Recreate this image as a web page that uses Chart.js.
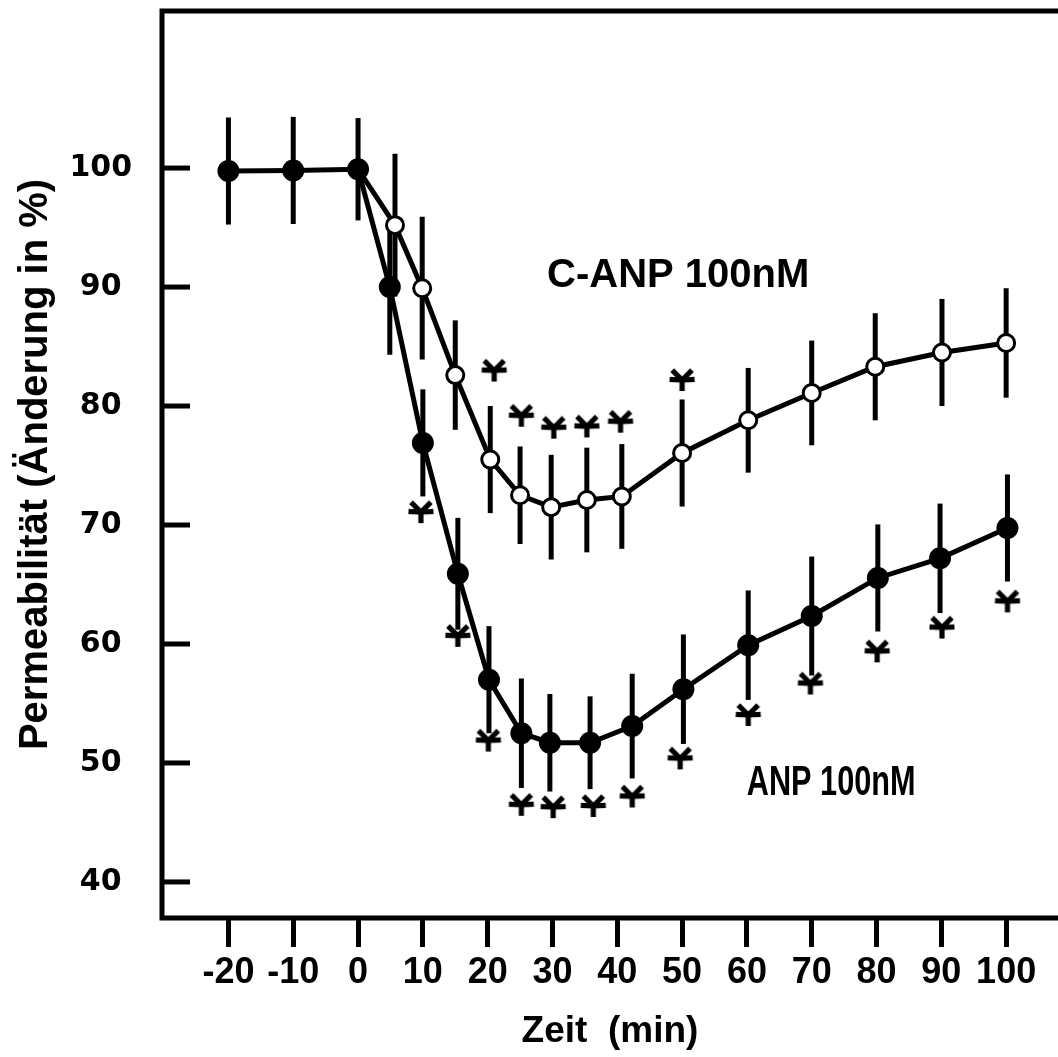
<!DOCTYPE html>
<html>
<head>
<meta charset="utf-8">
<script src="https://cdn.jsdelivr.net/npm/chart.js@4.4.1/dist/chart.umd.min.js"></script>
<style>
  html, body { margin: 0; padding: 0; background: #fff; overflow: hidden; }
  #wrap { width: 1058px; height: 1057px; }
  #myChart { display: block; }
</style>
</head>
<body>
<div id="wrap"><canvas id="myChart" width="1058" height="1057"></canvas></div>
<script>
// ANP 100nM (filled circles)
const anpX   = [-20, -10, 0, 4.9, 10, 15.4, 20.2, 25.2, 29.6, 35.8, 42.3, 50.2, 60.2, 70, 80.2, 89.8, 100.2];
const anpY   = [99.75, 99.8, 99.9, 90, 76.9, 65.9, 57.0, 52.5, 51.7, 51.7, 53.1, 56.2, 59.9, 62.35, 65.55, 67.2, 69.75];
const anpErr = [4.5, 4.5, 4.3, 5.7, 4.5, 4.7, 4.5, 4.6, 4.1, 3.9, 4.4, 4.6, 4.6, 5.0, 4.5, 4.6, 4.5];

// C-ANP 100nM (open circles), starts at the common 0-min point
const canpX   = [0, 5.7, 9.9, 15.0, 20.4, 25, 29.8, 35.3, 40.7, 50, 60.2, 70, 79.8, 90.1, 100];
const canpY   = [99.9, 95.2, 89.9, 82.6, 75.5, 72.5, 71.5, 72.1, 72.4, 76.05, 78.8, 81.1, 83.3, 84.5, 85.3];
const canpErr = [0, 6.0, 6.0, 4.6, 4.5, 4.1, 4.4, 4.4, 4.4, 4.5, 4.4, 4.4, 4.5, 4.5, 4.6];

// significance marks
const starX = [21, 25.2, 30.2, 35.3, 40.5, 50,
               9.7, 15.4, 20.1, 25.2, 30.1, 36.3, 42.3, 49.7, 60.2, 69.8, 80.1, 90.1, 100.2];
const starY = [82.9, 79.1, 78.1, 78.2, 78.6, 82.1,
               71.0, 60.6, 51.8, 46.4, 46.2, 46.3, 47.1, 50.3, 53.95, 56.6, 59.3, 61.3, 63.5];

const xTicks = [-20, -10, 0, 10, 20, 30, 40, 50, 60, 70, 80, 90, 100];
const yTicks = [40, 50, 60, 70, 80, 90, 100];

const labelText = ['C-ANP 100nM', 'ANP 100nM'];
const labelX = [49.4, 73];
const labelY = [90, 47.3];

function makeStar() {
  const c = document.createElement('canvas');
  c.width = 34; c.height = 34;
  const g = c.getContext('2d');
  g.strokeStyle = '#000';
  g.lineWidth = 5.2;
  const cx = 17, cy = 16;
  [[90, 11], [-3, 12.5], [183, 12.5], [-45, 14], [-135, 14]].forEach(function (a) {
    const r = a[0] * Math.PI / 180;
    g.beginPath();
    g.moveTo(cx, cy);
    g.lineTo(cx + a[1] * Math.cos(r), cy + a[1] * Math.sin(r));
    g.stroke();
  });
  return c;
}

const extras = {
  id: 'extras',
  beforeDatasetsDraw(chart) {
    const ctx = chart.ctx;
    const x = chart.scales.x, y = chart.scales.y;
    const a = chart.chartArea;
    ctx.save();
    ctx.strokeStyle = '#000';
    ctx.lineWidth = 5;
    // frame
    ctx.beginPath();
    ctx.moveTo(a.right + 5, a.top);
    ctx.lineTo(a.left, a.top);
    ctx.lineTo(a.left, a.bottom);
    ctx.lineTo(a.right + 5, a.bottom);
    ctx.stroke();
    // y ticks pointing inward
    yTicks.forEach(function (v) {
      const py = y.getPixelForValue(v);
      ctx.beginPath();
      ctx.moveTo(a.left, py);
      ctx.lineTo(a.left + 28, py);
      ctx.stroke();
    });
    // error bars
    function bars(xs, ys, es) {
      xs.forEach(function (v, i) {
        if (!es[i]) return;
        const px = x.getPixelForValue(v);
        ctx.beginPath();
        ctx.moveTo(px, y.getPixelForValue(ys[i] + es[i]));
        ctx.lineTo(px, y.getPixelForValue(ys[i] - es[i]));
        ctx.stroke();
      });
    }
    bars(anpX, anpY, anpErr);
    bars(canpX, canpY, canpErr);
    ctx.restore();
  },
  afterDraw(chart) {
    const ctx = chart.ctx;
    const x = chart.scales.x, y = chart.scales.y;
    ctx.save();
    ctx.fillStyle = '#000';
    ctx.textAlign = 'center';
    ctx.textBaseline = 'alphabetic';
    // C-ANP label
    ctx.font = 'bold 40px "Liberation Sans"';
    ctx.fillText(labelText[0], x.getPixelForValue(labelX[0]), y.getPixelForValue(labelY[0]));
    // ANP label, narrow type
    const px = x.getPixelForValue(labelX[1]);
    const py = y.getPixelForValue(labelY[1]);
    ctx.translate(px, py);
    ctx.scale(0.73, 1);
    ctx.font = 'bold 42px "Liberation Sans"';
    ctx.fillText(labelText[1], 0, 0);
    ctx.restore();
  }
};

Chart.defaults.font.family = '"Liberation Sans", Arial, sans-serif';
Chart.defaults.font.weight = 'bold';
Chart.defaults.color = '#000';

const ctx = document.getElementById('myChart').getContext('2d');
const myChart = new Chart(ctx, {
  type: 'scatter',
  data: {
    datasets: [{
      label: 'ANP 100nM',
      data: anpX.map(function (v, i) { return {x: v, y: anpY[i]}; }),
      showLine: true,
      borderColor: '#000',
      borderWidth: 5,
      backgroundColor: '#000',
      pointBackgroundColor: '#000',
      pointBorderWidth: 0,
      pointRadius: 11,
      tension: 0,
      order: 0
    }, {
      label: 'C-ANP 100nM',
      data: canpX.map(function (v, i) { return {x: v, y: canpY[i]}; }),
      showLine: true,
      borderColor: '#000',
      borderWidth: 5,
      pointBackgroundColor: '#fff',
      pointBorderColor: '#000',
      pointBorderWidth: 3,
      pointRadius: function (c) { return canpErr[c.dataIndex] ? 8.5 : 0; },
      tension: 0,
      order: 1
    }, {
      label: 'p < 0.05',
      data: starX.map(function (v, i) { return {x: v, y: starY[i]}; }),
      showLine: false,
      pointStyle: makeStar(),
      pointRadius: 17,
      order: 2
    }]
  },
  options: {
    responsive: false,
    animation: false,
    layout: { autoPadding: false, padding: { top: 11, right: 0, bottom: 0, left: 0 } },
    plugins: {
      legend: { display: false },
      tooltip: { enabled: false }
    },
    scales: {
      x: {
        type: 'linear',
        min: -30.25,
        max: 108,
        afterBuildTicks: function (s) { s.ticks = xTicks.map(function (v) { return {value: v}; }); },
        afterFit: function (s) { s.height = 139; s.paddingLeft = 0; s.paddingRight = 0; },
        border: { display: false },
        grid: {
          drawOnChartArea: false,
          drawTicks: true,
          tickLength: 29,
          tickWidth: 5,
          tickColor: '#000'
        },
        ticks: {
          padding: 4,
          maxRotation: 0,
          font: { size: 36, weight: 'bold' }
        },
        title: {
          display: true,
          text: 'Zeit  (min)',
          font: { size: 37, weight: 'bold' },
          padding: { top: 0, bottom: 3 }
        }
      },
      y: {
        type: 'linear',
        min: 36.97,
        max: 113.2,
        afterBuildTicks: function (s) { s.ticks = yTicks.map(function (v) { return {value: v}; }); },
        afterFit: function (s) { s.width = 162; s.paddingTop = 0; s.paddingBottom = 0; },
        border: { display: false },
        grid: { display: false, drawTicks: false },
        ticks: {
          padding: 30,
          crossAlign: 'center',
          font: { family: '"DejaVu Sans"', size: 30, weight: 'bold' }
        },
        title: {
          display: true,
          text: 'Permeabilität (Änderung in %)',
          font: { size: 40, weight: 'bold' },
          padding: { top: 12, bottom: 0 }
        }
      }
    }
  },
  plugins: [extras]
});
</script>
</body>
</html>
